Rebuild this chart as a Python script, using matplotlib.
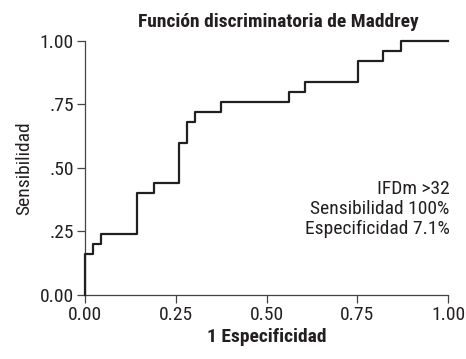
import matplotlib
matplotlib.use("Agg")
import matplotlib.pyplot as plt

# ROC curve points (step, post)
fpr = [0, 0, 0.023, 0.044, 0.144, 0.189, 0.259, 0.281, 0.302, 0.376,
       0.563, 0.606, 0.753, 0.821, 0.871, 1.0]
tpr = [0, 0.16, 0.20, 0.24, 0.40, 0.44, 0.60, 0.68, 0.72, 0.76,
       0.80, 0.84, 0.92, 0.96, 1.0, 1.0]
ticks = [0, 0.25, 0.5, 0.75, 1.0]
xtick_labels = ["0.00", "0.25", "0.50", "0.75", "1.00"]
ytick_labels = ["0.00", ".25", ".50", ".75", "1.00"]
note_lines = ["IFDm >32", "Sensibilidad 100%", "Especificidad 7.1%"]

plt.rcParams["font.family"] = ["Roboto Condensed", "DejaVu Sans"]

ink = "#231f20"
fs = 14
fig = plt.figure(figsize=(4.66, 3.59), dpi=100)
ax = fig.add_axes([0.1824, 0.1783, 0.779, 0.7075])

ax.step(fpr, tpr, where="post", color=ink, lw=1.6, clip_on=False, zorder=3)
ax.set_xlim(0, 1)
ax.set_ylim(0, 1)

ax.spines["top"].set_visible(False)
ax.spines["right"].set_visible(False)
for s in ("left", "bottom"):
    ax.spines[s].set_color("#444444")
    ax.spines[s].set_linewidth(0.9)

ax.set_xticks(ticks)
ax.set_xticklabels(xtick_labels)
ax.set_yticks(ticks)
ax.set_yticklabels(ytick_labels)
ax.tick_params(length=6, width=0.9, color="#444444", labelsize=fs,
               labelcolor=ink, pad=2)
ax.tick_params(axis="x", pad=2)

ax.set_xlabel("1 Especificidad", fontsize=fs, fontweight="bold", color=ink, labelpad=3)
ax.set_ylabel("Sensibilidad", fontsize=fs, color=ink, labelpad=5)
ax.set_title("Función discriminatoria de Maddrey", fontsize=fs,
             fontweight="bold", color=ink, x=0.534, pad=10)

ax.text(1.005, 0.339, "\n".join(note_lines), transform=ax.transAxes,
        ha="right", va="center", fontsize=fs, color=ink, linespacing=1.13)

fig.savefig("out.png", dpi=100)
